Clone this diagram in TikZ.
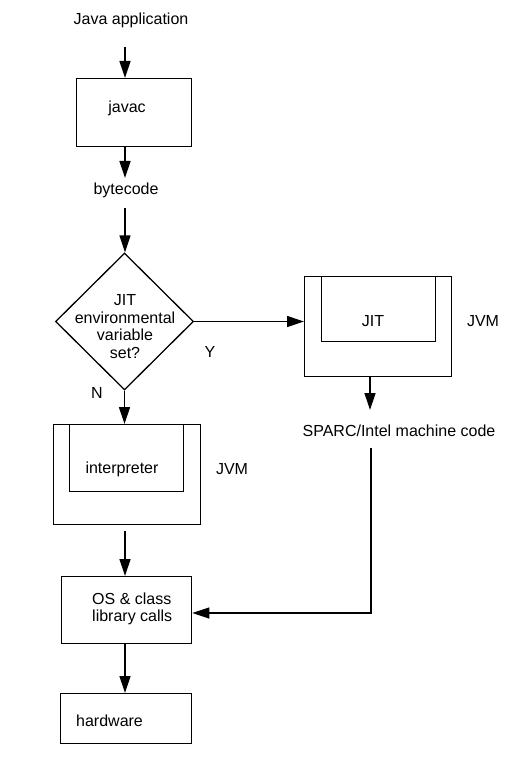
\documentclass[tikz,border=0pt]{standalone}
\usepackage{fontspec}
\setmainfont{Liberation Sans}
\usetikzlibrary{arrows.meta,shapes.geometric}
\begin{document}
\begin{tikzpicture}[x=1pt,y=-1pt,
  every node/.style={font=\fontsize{16}{18}\selectfont, inner sep=0pt},
  box/.style={draw, line width=1.3pt, rectangle, anchor=north west},
  arr/.style={line width=1.3pt, -{Triangle[length=17pt,width=11pt]}}]
\useasboundingbox[fill=white] (0,0) rectangle (518,778);

% boxes and texts
\node (app) at (131,20) {Java application};
\node[box, minimum width=115pt, minimum height=68pt] (javac) at (76,78) {};
\node (javact) at (127,108) {javac};
\node (bc) at (126,190) {bytecode};
\node[draw, diamond, line width=1.3pt, minimum width=138pt, minimum height=137pt] (dia) at (124.5,321.5) {};
\node[align=center, font=\fontsize{16}{17.7}\selectfont] (diat) at (125,326.5) {JIT\\environmental\\variable\\set?};
\node[box, minimum width=147pt, minimum height=100pt] (jito) at (304,276) {};
\node[box, minimum width=114pt, minimum height=65pt] (jiti) at (321,276) {};
\node (jitt) at (373,321) {JIT};
\node (jvma) at (483,321) {JVM};
\node (ylab) at (210,352) {Y};
\node (nlab) at (97,393) {N};
\node (sparc) at (399,431) {SPARC/Intel machine code};
\node[box, minimum width=147pt, minimum height=100pt] (into) at (53,424) {};
\node[box, minimum width=114pt, minimum height=67pt] (inti) at (69,424) {};
\node (intt) at (122,469) {interpreter};
\node (jvmb) at (232,469) {JVM};
\node[box, minimum width=130pt, minimum height=67pt] (os) at (61,576) {};
\node[align=left, anchor=west, font=\fontsize{16}{17}\selectfont] (ost) at (92,608.5) {OS \& class\\library calls};
\node[box, minimum width=131pt, minimum height=50pt] (hw) at (60,693) {};
\node[anchor=west] (hwt) at (76,721) {hardware};

% connectors
\coordinate (c0) at (125,47);
\draw[arr] (c0) -- (c0 |- javac.north);
\coordinate (c1) at (125,178);
\draw[arr] (javac.south -| c1) -- (c1);
\coordinate (c2) at (125,208);
\draw[arr] (c2) -- (c2 |- dia.north);
\draw[arr] (dia.east) -- (dia.east -| jito.west);
\coordinate (c3) at (370,410);
\draw[arr] (jito.south -| c3) -- (c3);
\coordinate (c4) at (371,448);
\coordinate (c5) at (371,613);
\draw[arr] (c4) -- (c5) -- (c5 -| os.east);
\draw[arr] (dia.south) -- (dia.south |- into.north);
\coordinate (c6) at (125,531);
\draw[arr] (c6) -- (c6 |- os.north);
\draw[arr] (os.south -| c6) -- (c6 |- hw.north);
\end{tikzpicture}
\end{document}
